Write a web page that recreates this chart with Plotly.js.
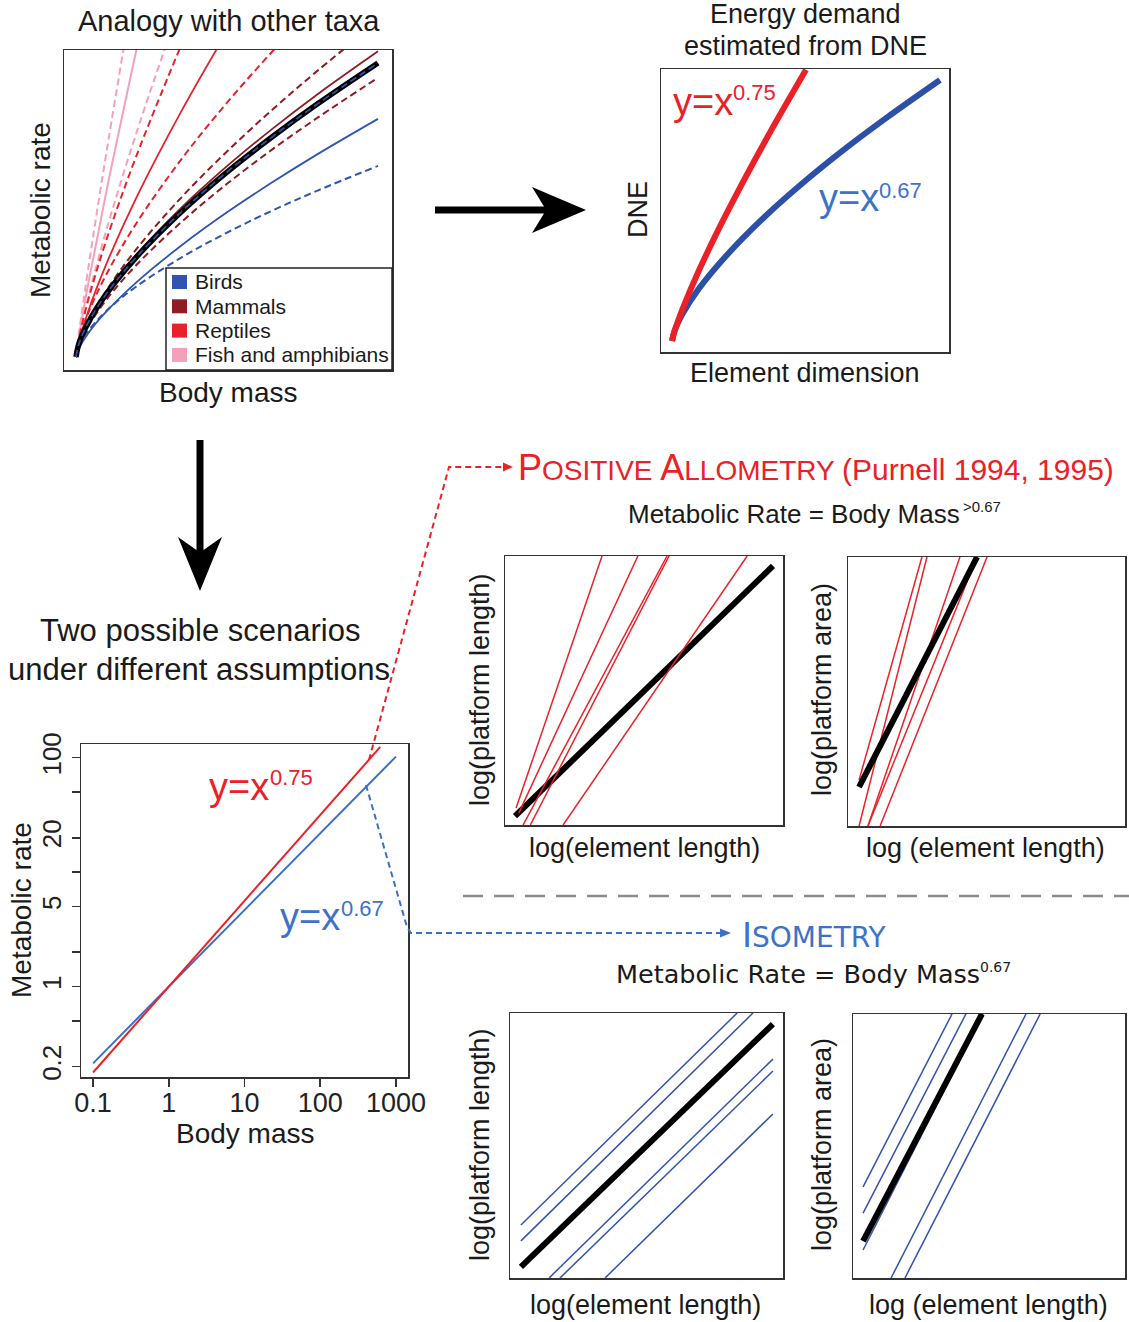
<!DOCTYPE html>
<html>
<head>
<meta charset="utf-8">
<script src="https://cdn.plot.ly/plotly-3.0.1.min.js"></script>
<style>
html,body{margin:0;padding:0;background:#fff;overflow:hidden;}
#chart{width:1129px;height:1322px;}
</style>
</head>
<body>
<div id="chart"></div>
<script>
// ---------------- DATA ----------------
// Panel 1: "Analogy with other taxa" (normalised body mass vs metabolic rate)
const taxaX = [0, 0.01, 0.04, 0.1, 0.2, 0.35, 0.5, 0.65, 0.8, 1.0];
const allTaxaMean     = [0, 0.046, 0.116, 0.214, 0.340, 0.495, 0.629, 0.749, 0.861, 1.00];
const birdsOnMean     = [0, 0.046, 0.116, 0.214, 0.340, 0.495, 0.629, 0.749, 0.861, 1.00];
const birdsSolid      = [0, 0.029, 0.080, 0.154, 0.254, 0.380, 0.492, 0.594, 0.690, 0.81];
const birdsDashed     = [0, 0.037, 0.088, 0.156, 0.240, 0.339, 0.423, 0.498, 0.566, 0.65];
const mammalsSolid    = [0, 0.045, 0.116, 0.217, 0.348, 0.509, 0.649, 0.776, 0.894, 1.04];
const mammalsDashedHi = [0, 0.044, 0.118, 0.225, 0.367, 0.544, 0.699, 0.841, 0.974, 1.14];
const mammalsDashedLo = [0, 0.040, 0.103, 0.194, 0.313, 0.460, 0.589, 0.706, 0.814, 0.95];
const reptilesSolid   = [0, 0.052, 0.154, 0.315, 0.542, 0.838, 1.107];
const reptilesDashedA = [0, 0.064, 0.192, 0.396, 0.684, 1.065];
const reptilesDashedB = [0, 0.056, 0.148, 0.280, 0.455, 0.674, 0.865, 1.039, 1.202];
const fishDashedA     = [0, 0.064, 0.200, 0.429, 0.762, 1.213];
const fishSolid       = [0, 0.070, 0.246, 0.560, 1.045];
const fishDashedB     = [0, 0.083, 0.297, 0.691, 1.308];
const legendLabels = ["Birds", "Mammals", "Reptiles", "Fish and amphibians"];

// Panel 2: DNE vs element dimension
const dimX   = [0, 0.01, 0.04, 0.1, 0.2, 0.35, 0.5, 0.65, 0.8, 1.0];
const dne067 = [0, 0.040, 0.105, 0.200, 0.324, 0.480, 0.616, 0.740, 0.855, 1.00];
const dne075 = [0, 0.039, 0.124, 0.269, 0.481, 0.770, 1.039];

// Panel 3: log-log metabolic rate vs body mass
const massX067 = [0.1, 1000];
const rate067  = [0.214, 102.3];
const massX075 = [0.1, 620];
const rate075  = [0.178, 124.2];
const massTicks = [0.1, 1, 10, 100, 1000];
const massTickText = ["0.1", "1", "10", "100", "1000"];
const rateTicks = [0.2, 0.5, 1, 2, 5, 10, 20, 50, 100];
const rateTickText = ["0.2", "", "1", "", "5", "", "20", "", "100"];

// Panel 4: positive allometry, platform length vs element length
const allomLenBlackX = [0.036, 0.964];
const allomLenBlackY = [0.033, 0.963];
const allomLenX0 = [0.040, 0.050, 0.065, 0.091, 0.209];
const allomLenY0 = [0.063, 0.045, 0.000, 0.000, 0.000];
const allomLenX1 = [0.349, 0.478, 0.583, 0.590, 0.871];
const allomLenY1 = [1, 1, 1, 1, 1];

// Panel 5: positive allometry, platform area vs element length
const allomAreaBlackX = [0.040, 0.466];
const allomAreaBlackY = [0.145, 1.000];
const allomAreaX0 = [0.040, 0.040, 0.072, 0.072, 0.116];
const allomAreaY0 = [0.171, 0.000, 0.000, 0.000, 0.000];
const allomAreaX1 = [0.267, 0.285, 0.404, 0.466, 0.502];
const allomAreaY1 = [1, 1, 1, 1, 1];

// Panel 6: isometry, platform length vs element length
const isoLenBlackX = [0.040, 0.963];
const isoLenBlackY = [0.042, 0.958];
const isoLenX0 = [0.040, 0.040, 0.143, 0.183, 0.348];
const isoLenY0 = [0.200, 0.140, 0.000, 0.000, 0.000];
const isoLenX1 = [0.832, 0.890, 0.963, 0.963, 0.963];
const isoLenY1 = [1.000, 1.000, 0.826, 0.781, 0.619];

// Panel 7: isometry, platform area vs element length
const isoAreaBlackX = [0.037, 0.474];
const isoAreaBlackY = [0.140, 1.000];
const isoAreaX0 = [0.037, 0.037, 0.037, 0.140, 0.191];
const isoAreaY0 = [0.345, 0.246, 0.106, 0.000, 0.000];
const isoAreaX1 = [0.364, 0.415, 0.478, 0.636, 0.688];
const isoAreaY1 = [1, 1, 1, 1, 1];

// ---------------- STYLE / LAYOUT ----------------
const W = 1129, H = 1322;
const FONT = "Liberation Sans, Arial, Helvetica, sans-serif";
const DJ = "DejaVu Sans, Verdana, sans-serif";
const C = {
  birds: "#2f55b0", mammals: "#8e1c22", reptiles: "#e8222c", fish: "#f5a0b9",
  red: "#ec2027", blue: "#2c4fa8", blueL: "#3b6fc6", blueTxt: "#3d72c8", ink: "#1a1a1a"
};
const fx = p => p / W;
const fy = p => 1 - p / H;

function box(l, r, t, b, xr, yr, extra) {
  return {
    x: Object.assign({domain: [fx(l), fx(r)], range: xr, showline: true, mirror: true,
      linecolor: "#333", linewidth: 1.5, showgrid: false, zeroline: false,
      showticklabels: false, ticks: "", fixedrange: true}, (extra && extra.x) || {}),
    y: Object.assign({domain: [fy(b), fy(t)], range: yr, showline: true, mirror: true,
      linecolor: "#333", linewidth: 1.5, showgrid: false, zeroline: false,
      showticklabels: false, ticks: "", fixedrange: true}, (extra && extra.y) || {})
  };
}

const traces = [];
function line(xs, ys, ax, color, width, dash) {
  traces.push({x: xs, y: ys, xaxis: "x" + ax, yaxis: "y" + ax, type: "scatter",
    mode: "lines", hoverinfo: "skip", showlegend: false,
    line: {color: color, width: width, dash: dash || "solid", shape: "spline", smoothing: 1}});
}
const D = "7px,4px";

// Panel 1 traces
line(taxaX.slice(0, fishDashedA.length), fishDashedA, "", C.fish, 2, D);
line(taxaX.slice(0, fishSolid.length), fishSolid, "", C.fish, 2);
line(taxaX.slice(0, fishDashedB.length), fishDashedB, "", C.fish, 2, D);
line(taxaX.slice(0, reptilesDashedA.length), reptilesDashedA, "", C.reptiles, 2, D);
line(taxaX.slice(0, reptilesSolid.length), reptilesSolid, "", C.reptiles, 1.8);
line(taxaX.slice(0, reptilesDashedB.length), reptilesDashedB, "", C.reptiles, 2, D);
line(taxaX, mammalsDashedHi, "", C.mammals, 2, D);
line(taxaX, mammalsSolid, "", C.mammals, 1.8);
line(taxaX, mammalsDashedLo, "", C.mammals, 2, D);
line(taxaX, birdsSolid, "", C.birds, 1.8);
line(taxaX, birdsDashed, "", C.birds, 2, D);
line(taxaX, allTaxaMean, "", "#000", 5.5);
line(taxaX, birdsOnMean, "", C.birds, 1.6, D);

// Panel 2
line(dimX, dne067, "2", C.blue, 6);
line(dimX.slice(0, dne075.length), dne075, "2", C.red, 6);

// Panel 3
traces.push({x: massX067, y: rate067, xaxis: "x3", yaxis: "y3", type: "scatter", mode: "lines",
  hoverinfo: "skip", showlegend: false, line: {color: C.blueL, width: 2}});
traces.push({x: massX075, y: rate075, xaxis: "x3", yaxis: "y3", type: "scatter", mode: "lines",
  hoverinfo: "skip", showlegend: false, line: {color: C.red, width: 2}});

function segs(x0, y0, x1, y1, ax, color, width) {
  for (let i = 0; i < x0.length; i++) {
    traces.push({x: [x0[i], x1[i]], y: [y0[i], y1[i]], xaxis: "x" + ax, yaxis: "y" + ax,
      type: "scatter", mode: "lines", hoverinfo: "skip", showlegend: false,
      line: {color: color, width: width}});
  }
}
function blk(xs, ys, ax) {
  traces.push({x: xs, y: ys, xaxis: "x" + ax, yaxis: "y" + ax, type: "scatter", mode: "lines",
    hoverinfo: "skip", showlegend: false, line: {color: "#000", width: 6}});
}
// Panel 4
blk(allomLenBlackX, allomLenBlackY, "4");
segs(allomLenX0, allomLenY0, allomLenX1, allomLenY1, "4", C.red, 1.5);
// Panel 5
segs(allomAreaX0, allomAreaY0, allomAreaX1, allomAreaY1, "5", C.red, 1.5);
blk(allomAreaBlackX, allomAreaBlackY, "5");
// Panel 6
segs(isoLenX0, isoLenY0, isoLenX1, isoLenY1, "6", "#3352b0", 1.5);
blk(isoLenBlackX, isoLenBlackY, "6");
// Panel 7
segs(isoAreaX0, isoAreaY0, isoAreaX1, isoAreaY1, "7", "#3352b0", 1.5);
blk(isoAreaBlackX, isoAreaBlackY, "7");

// Axes
const a1 = box(64, 392, 50, 370, [-0.0397, 1.0464], [-0.0442, 1.0442]);
const a2 = box(661, 949, 69, 352, [-0.041, 1.0336], [-0.042, 1.042]);
const tickCommon = {showticklabels: true, ticks: "outside", ticklen: 8, tickwidth: 1.5,
  tickcolor: "#333", tickfont: {family: FONT, size: 27, color: "#222"}};
const a3 = box(81, 408, 744, 1077, [-1.159, 3.159], [-0.789, 2.12], {
  x: Object.assign({type: "log", tickmode: "array", tickvals: massTicks, ticktext: massTickText,
    ticklabelstandoff: -7}, tickCommon),
  y: Object.assign({type: "log", tickmode: "array", tickvals: rateTicks, ticktext: rateTickText,
    tickangle: -90}, tickCommon, {tickfont: {family: FONT, size: 26, color: "#222"}})
});
const a4 = box(505, 783, 556, 825, [0, 1], [0, 1]);
const a5 = box(848, 1125, 557, 826, [0, 1], [0, 1]);
const a6 = box(510, 783, 1013, 1278, [0, 1], [0, 1]);
const a7 = box(853, 1125, 1014, 1278, [0, 1], [0, 1]);

// Annotations
const ann = [];
function T(text, x, y, size, o) {
  o = o || {};
  ann.push({text: text, x: fx(x), y: fy(y), xref: "paper", yref: "paper", showarrow: false,
    xanchor: o.xa || "center", yanchor: "middle", textangle: o.rot || 0, borderpad: 0,
    font: {family: o.family || FONT, size: size, color: o.color || C.ink}});
}
T("Analogy with other taxa", 229, 21, 29);
T("Metabolic rate", 40, 210, 28, {rot: -90});
T("Body mass", 228, 392, 28);
T("Energy demand", 805, 14, 27);
T("estimated from DNE", 805, 46, 27);
T("DNE", 638, 210, 27, {rot: -90});
T("Element dimension", 805, 373, 27);
T("y=x", 703, 102, 38, {color: C.red});
T("0.75", 732, 92, 22, {color: C.red, xa: "left"});
T("y=x", 849, 198, 38, {color: C.blueTxt});
T("0.67", 878, 191, 22, {color: C.blueTxt, xa: "left"});
T("Two possible scenarios", 200, 630, 31);
T("under different assumptions", 199, 670, 31);
T("Metabolic rate", 22, 910, 28, {rot: -90});
T("Body mass", 245, 1133, 28);
T("y=x", 239, 787, 38, {color: C.red});
T("0.75", 269, 777, 22, {color: C.red, xa: "left"});
T("y=x", 310, 917, 38, {color: C.blueTxt});
T("0.67", 340, 909, 22, {color: C.blueTxt, xa: "left"});
T('<span style="font-size:36px">P</span>OSITIVE <span style="font-size:36px">A</span>LLOMETRY <span style="font-size:30px">(Purnell 1994, 1995)</span>',
  517, 467, 28, {color: C.red, xa: "left"});
T("Metabolic Rate = Body Mass", 627, 514, 26, {xa: "left"});
T("&gt;0.67", 962, 507, 15, {xa: "left"});
T('<span style="font-size:34px">I</span>SOMETRY', 741, 935, 28, {color: C.blueTxt, xa: "left", family: DJ});
T("Metabolic Rate = Body Mass", 615, 974, 25.5, {xa: "left", family: DJ});
T("0.67", 979, 967, 14, {xa: "left", family: DJ});
T("log(platform length)", 480, 690, 27, {rot: -90});
T("log(element length)", 644, 848, 27);
T("log(platform area)", 822, 690, 27, {rot: -90});
T("log (element length)", 985, 848, 27);
T("log(platform length)", 480, 1145, 27, {rot: -90});
T("log(element length)", 645, 1305, 27);
T("log(platform area)", 822, 1145, 27, {rot: -90});
T("log (element length)", 988, 1305, 27);

// Legend (panel 1)
const legendColors = [C.birds, C.mammals, C.reptiles, C.fish];
const shapes = [];
shapes.push({type: "rect", xref: "paper", yref: "paper", x0: fx(166), x1: fx(392), y0: fy(370), y1: fy(268),
  fillcolor: "#fff", line: {color: "#222", width: 1.5}, layer: "above"});
legendLabels.forEach((lab, i) => {
  const cy = 282 + i * 24.3;
  shapes.push({type: "rect", xref: "paper", yref: "paper", x0: fx(172), x1: fx(187), y0: fy(cy + 7), y1: fy(cy - 7),
    fillcolor: legendColors[i], line: {width: 0}, layer: "above"});
  T(lab, 194, cy, 21, {xa: "left"});
});

// Path helper in pixel space -> paper
function P(pts, close) {
  return pts.map((p, i) => (i ? "L" : "M") + fx(p[0]).toFixed(5) + "," + fy(p[1]).toFixed(5)).join(" ") + (close ? " Z" : "");
}
// Big right arrow
shapes.push({type: "path", xref: "paper", yref: "paper", layer: "above",
  path: P([[435, 206.5], [544, 206.5], [532, 187], [586, 210], [532, 233], [544, 213.5], [435, 213.5]], true),
  fillcolor: "#000", line: {width: 0}});
// Big down arrow
shapes.push({type: "path", xref: "paper", yref: "paper", layer: "above",
  path: P([[196.5, 440], [196.5, 550], [178, 537], [200, 591], [222, 537], [203.5, 550], [203.5, 440]], true),
  fillcolor: "#000", line: {width: 0}});
// Red dashed connector
shapes.push({type: "path", xref: "paper", yref: "paper", layer: "above",
  path: P([[369, 760], [449, 467], [504, 467]]), line: {color: C.red, width: 2, dash: "6px,4px"}});
shapes.push({type: "path", xref: "paper", yref: "paper", layer: "above",
  path: P([[503, 462.5], [513, 467], [503, 471.5]], true), fillcolor: C.red, line: {width: 0}});
// Blue dashed connector
shapes.push({type: "path", xref: "paper", yref: "paper", layer: "above",
  path: P([[366, 785], [407, 927], [411, 933], [721, 933]]), line: {color: C.blueL, width: 2, dash: "6px,4px"}});
shapes.push({type: "path", xref: "paper", yref: "paper", layer: "above",
  path: P([[720, 928.5], [731, 933], [720, 937.5]], true), fillcolor: C.blueL, line: {width: 0}});
// Grey separator
shapes.push({type: "line", xref: "paper", yref: "paper", layer: "above",
  x0: fx(463), x1: fx(1129), y0: fy(896), y1: fy(896), line: {color: "#8c8c8c", width: 2.5, dash: "20px,11px"}});

const layout = {
  width: W, height: H, margin: {l: 0, r: 0, t: 0, b: 0},
  paper_bgcolor: "#fff", plot_bgcolor: "rgba(0,0,0,0)", showlegend: false,
  font: {family: FONT},
  xaxis: Object.assign({anchor: "y"}, a1.x), yaxis: Object.assign({anchor: "x"}, a1.y),
  xaxis2: Object.assign({anchor: "y2"}, a2.x), yaxis2: Object.assign({anchor: "x2"}, a2.y),
  xaxis3: Object.assign({anchor: "y3"}, a3.x), yaxis3: Object.assign({anchor: "x3"}, a3.y),
  xaxis4: Object.assign({anchor: "y4"}, a4.x), yaxis4: Object.assign({anchor: "x4"}, a4.y),
  xaxis5: Object.assign({anchor: "y5"}, a5.x), yaxis5: Object.assign({anchor: "x5"}, a5.y),
  xaxis6: Object.assign({anchor: "y6"}, a6.x), yaxis6: Object.assign({anchor: "x6"}, a6.y),
  xaxis7: Object.assign({anchor: "y7"}, a7.x), yaxis7: Object.assign({anchor: "x7"}, a7.y),
  annotations: ann, shapes: shapes
};
Plotly.newPlot("chart", traces, layout, {staticPlot: true, displayModeBar: false});
</script>
</body>
</html>
